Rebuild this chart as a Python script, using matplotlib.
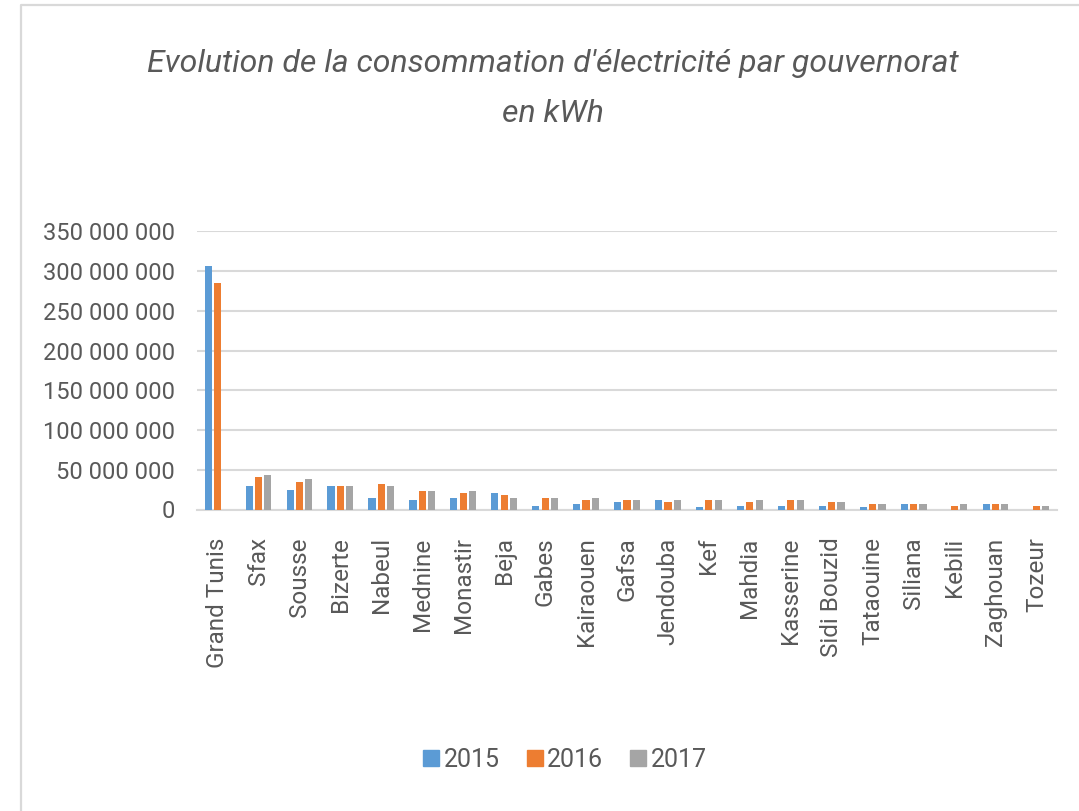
import numpy as np
import matplotlib
matplotlib.use("Agg")
import matplotlib.pyplot as plt
from matplotlib.lines import Line2D
from matplotlib.ticker import FuncFormatter

# ---------- Data (kWh) ----------
gouvernorats = ['Grand Tunis', 'Sfax', 'Sousse', 'Bizerte', 'Nabeul', 'Mednine',
                'Monastir', 'Beja', 'Gabes', 'Kairaouen', 'Gafsa', 'Jendouba',
                'Kef', 'Mahdia', 'Kasserine', 'Sidi Bouzid', 'Tataouine',
                'Siliana', 'Kebili', 'Zaghouan', 'Tozeur']
v2015 = [306e6, 29.7e6, 25e6, 30e6, 14e6, 12e6, 14e6, 20.5e6, 4.6e6, 7e6, 9.4e6,
         11.7e6, 2.9e6, 5e6, 5e6, 5e6, 2.9e6, 7.5e6, 0, 7.5e6, 0]
v2016 = [285.5e6, 41e6, 34e6, 30e6, 32e6, 23e6, 20.5e6, 18.4e6, 14e6, 12e6, 11.7e6,
         9.6e6, 11.7e6, 9.6e6, 11.7e6, 9.6e6, 7.5e6, 7.5e6, 5e6, 7.5e6, 5e6]
v2017 = [0, 43e6, 39e6, 30e6, 30e6, 23e6, 23e6, 14e6, 14e6, 14e6, 11.7e6,
         11.7e6, 11.7e6, 11.7e6, 11.7e6, 9.6e6, 7.5e6, 7.5e6, 7.5e6, 7.5e6, 5e6]
years = ['2015', '2016', '2017']
colors = ['#5b9bd5', '#ed7d31', '#a5a5a5']

FONT = ['Roboto', 'DejaVu Sans']
TXT = '#595959'
GRID = '#d9d9d9'

# ---------- Plot ----------
fig = plt.figure(figsize=(10.79, 8.11), dpi=100)
ax = fig.add_axes([197 / 1079, 1 - 509.5 / 811, 860 / 1079, (509.5 - 231.3) / 811])

x = np.arange(len(gouvernorats))
pitch = 0.227
for i, (vals, col) in enumerate(zip([v2015, v2016, v2017], colors)):
    ax.bar(x + (i - 1) * pitch, vals, width=0.175, color=col, zorder=3)

ax.set_xlim(-0.5, len(gouvernorats) - 0.5)
ax.set_ylim(0, 350e6)
ax.set_yticks(np.arange(0, 350e6 + 1, 50e6))
ax.yaxis.set_major_formatter(FuncFormatter(lambda v, p: f"{int(v):,}".replace(',', ' ')))
ax.grid(axis='y', color=GRID, linewidth=1.5, zorder=0)
for s in ['top', 'right', 'left']:
    ax.spines[s].set_visible(False)
ax.spines['bottom'].set_color(GRID)
ax.spines['bottom'].set_linewidth(1.5)
ax.tick_params(length=0)
ax.tick_params(axis='y', pad=16, labelsize=17, labelcolor=TXT)
ax.set_xticks(x)
ax.set_xticklabels(gouvernorats, rotation=90, fontsize=17.5, color=TXT, family=FONT)
ax.tick_params(axis='x', pad=20)
for lab in ax.get_yticklabels():
    lab.set_family(FONT)

# ---------- Title ----------
fig.text(553 / 1079, 1 - 63 / 811, "Evolution de la consommation d'électricité par gouvernorat",
         ha='center', va='center', fontsize=23, style='italic', color=TXT, family=FONT)
fig.text(553 / 1079, 1 - 113 / 811, "en kWh",
         ha='center', va='center', fontsize=23, style='italic', color=TXT, family=FONT)

# ---------- Legend ----------
handles = [Line2D([], [], marker='s', linestyle='none', markersize=11, color=c) for c in colors]
fig.legend(handles, years, loc='center', bbox_to_anchor=(564 / 1079, 1 - 760 / 811),
           ncol=3, frameon=False, handletextpad=0.1, columnspacing=1.0,
           prop={'family': FONT, 'size': 18}, labelcolor=TXT, handlelength=0.8)

# chart frame (left and top edges visible)
fig.add_artist(Line2D([21 / 1079, 21 / 1079, 1], [0, 1 - 5 / 811, 1 - 5 / 811],
                      transform=fig.transFigure, color=GRID, linewidth=1.6))

plt.savefig('out.png', dpi=100)
